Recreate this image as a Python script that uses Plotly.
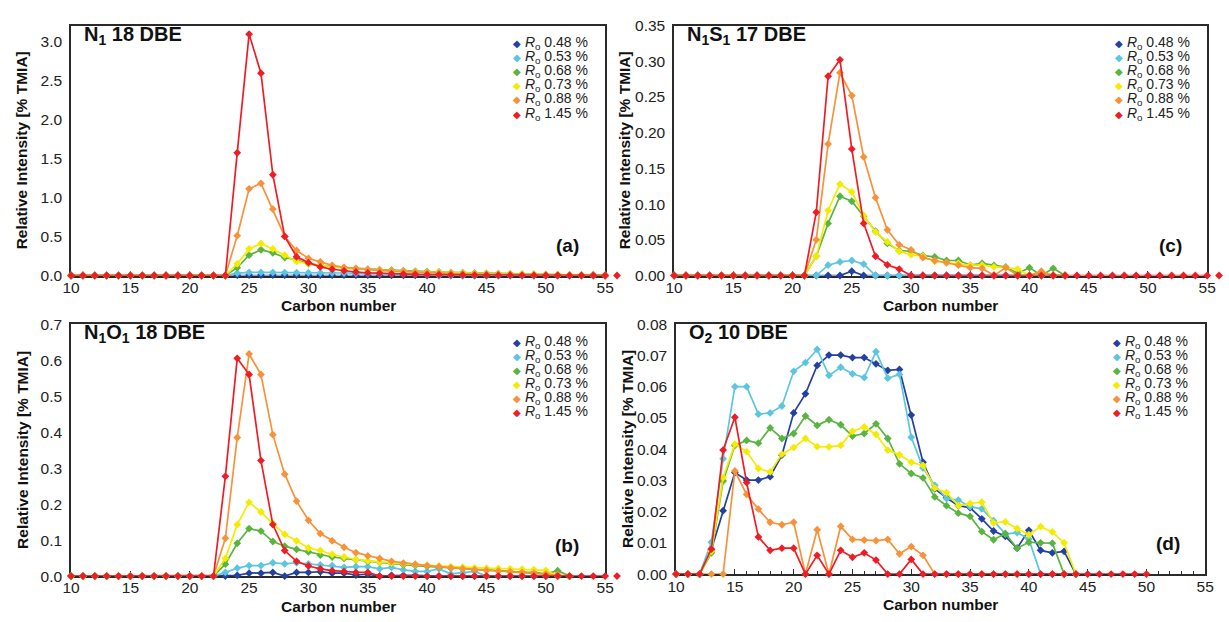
import plotly.graph_objects as go

# ---------------- data ----------------
SERIES_LABELS = ["0.48", "0.53", "0.68", "0.73", "0.88", "1.45"]
COLORS = ["#23429f", "#5cc6df", "#5ab440", "#f4ec00", "#f7923a", "#ee1d25"]

# Panel (a): N1 18 DBE
A_X_RED = list(range(10, 57))
A_X = list(range(10, 56))
A_048 = [0] * 14 + [0.004, 0.006, 0.006, 0.006, 0.006, 0.006, 0.005, 0.005, 0.005, 0.004, 0.004, 0.004,
                    0.003, 0.003, 0.002, 0.002] + [0] * 16
A_053 = [0] * 14 + [0.03, 0.04, 0.04, 0.04, 0.038, 0.037, 0.036, 0.035, 0.034, 0.032, 0.03, 0.028, 0.026,
                    0.024, 0.02, 0.015, 0.01] + [0] * 15
A_068 = [0] * 14 + [0.10, 0.26, 0.33, 0.29, 0.23, 0.20, 0.15, 0.13, 0.115, 0.10, 0.09, 0.08, 0.075, 0.07,
                    0.062, 0.056, 0.05, 0.045, 0.04, 0.036, 0.032, 0.028, 0.025, 0.022, 0.019, 0.016,
                    0.013, 0.011, 0.009, 0.007, 0.01, 0]
A_073 = [0] * 14 + [0.15, 0.34, 0.41, 0.34, 0.26, 0.18, 0.15, 0.13, 0.11, 0.095, 0.085, 0.075, 0.068,
                    0.06, 0.054, 0.048, 0.043, 0.038, 0.034, 0.03, 0.027, 0.024, 0.021, 0.018, 0.016,
                    0.014, 0.012, 0.01, 0.008, 0.006, 0.004, 0]
A_088 = [0] * 14 + [0.51, 1.11, 1.18, 0.85, 0.50, 0.32, 0.22, 0.175, 0.13, 0.105, 0.09, 0.075, 0.065,
                    0.055, 0.048, 0.042, 0.036, 0.03, 0.026, 0.022, 0.019, 0.016, 0.013, 0.011, 0.009,
                    0.007, 0.005, 0.004, 0.003, 0.002, 0.001, 0]
A_145 = [0] * 14 + [1.57, 3.09, 2.59, 1.29, 0.50, 0.24, 0.165, 0.11, 0.08, 0.06, 0.045, 0.035, 0.028,
                    0.022, 0.018, 0.015, 0.012, 0.01, 0.008, 0.007, 0.006, 0.005, 0.004, 0.004, 0.003,
                    0.003, 0.002, 0.002, 0.001, 0.001, 0.001, 0, 0]

# Panel (c): N1S1 17 DBE
C_X_RED = list(range(10, 57))
C_X = list(range(10, 44))
C_048 = [0] * 12 + [0, 0, 0, 0.006] + [0] * 18
C_053 = [0] * 12 + [0, 0.0145, 0.019, 0.021, 0.016] + [0] * 17
C_068 = [0] * 12 + [0.027, 0.073, 0.111, 0.104, 0.083, 0.062, 0.045, 0.035, 0.034, 0.028, 0.026, 0.021,
                    0.021, 0.0145, 0.017, 0.014, 0.012, 0.003, 0.011, 0, 0.01, 0]
C_073 = [0] * 12 + [0.027, 0.091, 0.128, 0.117, 0.084, 0.061, 0.047, 0.034, 0.029, 0.027, 0.02, 0.018,
                    0.017, 0.0145, 0.0145, 0.012, 0.011, 0.009, 0, 0, 0, 0]
C_088 = [0] * 12 + [0.05, 0.184, 0.284, 0.252, 0.166, 0.109, 0.064, 0.043, 0.036, 0.025, 0.021, 0.018,
                    0.0145, 0.011, 0.01, 0, 0.011, 0, 0, 0.006, 0, 0]
C_145 = [0] * 12 + [0.0886, 0.279, 0.302, 0.177, 0.073, 0.027, 0.015, 0.009] + [0] * 27

# Panel (b): N1O1 18 DBE
B_X_RED = list(range(10, 57))
B_X = list(range(10, 53))
B_048 = [0] * 13 + [0, 0.002, 0.008, 0.008, 0.01, 0, 0.01, 0.01, 0.012, 0.008, 0.008, 0.003, 0.005, 0,
                    0.002, 0.002, 0.002] + [0] * 13
B_053 = [0] * 13 + [0.01, 0.022, 0.029, 0.029, 0.037, 0.034, 0.037, 0.034, 0.031, 0.029, 0.024, 0.026,
                    0.026, 0.02, 0.024, 0.017, 0.013, 0.013, 0.02, 0.006, 0.009, 0.013] + [0] * 8
B_068 = [0] * 13 + [0.033, 0.091, 0.132, 0.125, 0.096, 0.083, 0.074, 0.067, 0.058, 0.053, 0.049, 0.045,
                    0.04, 0.038, 0.035, 0.031, 0.029, 0.027, 0.025, 0.022, 0.02, 0.017, 0.016, 0.015,
                    0.012, 0.011, 0.01, 0.006, 0.015, 0]
B_073 = [0] * 13 + [0.049, 0.143, 0.205, 0.178, 0.146, 0.116, 0.098, 0.078, 0.071, 0.06, 0.053, 0.046,
                    0.042, 0.039, 0.036, 0.034, 0.032, 0.03, 0.028, 0.026, 0.025, 0.023, 0.022, 0.021,
                    0.02, 0.019, 0.018, 0.016, 0, 0]
B_088 = [0] * 13 + [0.105, 0.385, 0.617, 0.56, 0.393, 0.283, 0.208, 0.155, 0.118, 0.098, 0.08, 0.065,
                    0.056, 0.049, 0.041, 0.036, 0.033, 0.029, 0.026, 0.023, 0.02, 0.018, 0.016, 0.014,
                    0.012, 0.01, 0.008, 0.006, 0.004, 0]
B_145 = [0] * 13 + [0.277, 0.605, 0.56, 0.321, 0.143, 0.071, 0.041, 0.028, 0.02, 0.015, 0.013, 0.01,
                    0.01] + [0] * 21

# Panel (d): O2 10 DBE
D_X_RED = list(range(10, 51))
D_X = list(range(10, 45))
D_048 = [0] * 3 + [0.0078, 0.0203, 0.0325, 0.0301, 0.0301, 0.0312, 0.0381, 0.0516, 0.0577, 0.0668,
                   0.0701, 0.0701, 0.0693, 0.0693, 0.0673, 0.0652, 0.0655, 0.0509, 0.0358, 0.0273,
                   0.0244, 0.0219, 0.0213, 0.0177, 0.0138, 0.0121, 0.0083, 0.014, 0.0076, 0.0068,
                   0.0073, 0]
D_053 = [0] * 3 + [0.0102, 0.0369, 0.060, 0.060, 0.0512, 0.0516, 0.0538, 0.0649, 0.0677, 0.0719,
                   0.0636, 0.0662, 0.0641, 0.0629, 0.0712, 0.0627, 0.0639, 0.0438, 0.034, 0.0284,
                   0.0242, 0.0237, 0.0216, 0.0209, 0.0171, 0.0128, 0.0133, 0.0112] + [0] * 4
D_068 = [0] * 3 + [0.0068, 0.0298, 0.0412, 0.0428, 0.0419, 0.0468, 0.0434, 0.045, 0.0506, 0.0476,
                   0.0494, 0.0478, 0.0442, 0.045, 0.0481, 0.0434, 0.0353, 0.0322, 0.0308, 0.0247,
                   0.0219, 0.0195, 0.0185, 0.0136, 0.011, 0.013, 0.0083, 0.0102, 0.01, 0.0099] + [0] * 2
D_073 = [0] * 3 + [0.0073, 0.0309, 0.0416, 0.0392, 0.0338, 0.0327, 0.0384, 0.0405, 0.0434, 0.0408,
                   0.0407, 0.0412, 0.0457, 0.0471, 0.0447, 0.0397, 0.0382, 0.0358, 0.0348, 0.0275,
                   0.0261, 0.0219, 0.0226, 0.023, 0.0164, 0.0167, 0.0146, 0.0126, 0.0152, 0.0135,
                   0.01, 0]
D_088 = [0] * 5 + [0.033, 0.0255, 0.0208, 0.0166, 0.0158, 0.0166, 0, 0.0142, 0, 0.0153, 0.0111, 0.0109,
                   0.0107, 0.0111, 0.0065, 0.0088, 0.006] + [0] * 13
D_145 = [0] * 3 + [0.008, 0.0397, 0.0502, 0.0293, 0.0119, 0.0076, 0.0083, 0.0083, 0, 0.006, 0, 0.0076,
                   0.0054, 0.0068, 0.0045, 0, 0, 0.0047] + [0] * 20

PANEL_TITLES = ["N<sub>1</sub> 18 DBE", "N<sub>1</sub>S<sub>1</sub> 17 DBE",
                "N<sub>1</sub>O<sub>1</sub> 18 DBE", "O<sub>2</sub> 10 DBE"]
PANEL_LETTERS = ["(a)", "(c)", "(b)", "(d)"]
Y_RANGES = [[0, 3.2], [0, 0.35], [0, 0.7], [0, 0.08]]
Y_DTICKS = [0.5, 0.05, 0.1, 0.01]
Y_FORMATS = [".1f", ".2f", ".1f", ".2f"]
X_RANGE = [10, 55]
X_TITLE = "Carbon number"
Y_TITLE = "Relative Intensity [% TMIA]"

panels = [
    (A_X, A_X_RED, [A_048, A_053, A_068, A_073, A_088, A_145]),
    (C_X, C_X_RED, [C_048, C_053, C_068, C_073, C_088, C_145]),
    (B_X, B_X_RED, [B_048, B_053, B_068, B_073, B_088, B_145]),
    (D_X, D_X_RED, [D_048, D_053, D_068, D_073, D_088, D_145]),
]

# ---------------- layout geometry (pixels) ----------------
W, H = 1229, 622
# left, right, top, bottom of each plot area
BOXES = [(63, 605, 17, 274), (675, 1216, 17, 274), (63, 605, 324, 583), (677, 1214, 324, 581)]


def px(x):
    return x / W


def py(y):
    return 1 - y / H


FONT = "Liberation Sans, Arial, sans-serif"
AXC = "#2a2a2a"

fig = go.Figure()
layout = dict(
    width=W, height=H, margin=dict(l=0, r=0, t=0, b=0),
    paper_bgcolor="white", plot_bgcolor="rgba(0,0,0,0)", showlegend=False,
    font=dict(family=FONT, color="#222", size=15),
)
annotations = []

for i, (xs, xs_red, series) in enumerate(panels):
    n = i + 1
    xa = "x" if n == 1 else f"x{n}"
    ya = "y" if n == 1 else f"y{n}"
    l, r, t, b = BOXES[i]
    # extra (hidden) x axis with the same scale, reaching one carbon further,
    # so that the red markers beyond the frame stay visible as in the original
    xmax = max(xs_red)
    n_ext = n + 4
    xa_ext = f"x{n_ext}"
    unit = (r - l) / (X_RANGE[1] - X_RANGE[0])
    r_ext = r + unit * max(0, xmax - X_RANGE[1])
    for j, vals in enumerate(series):
        is_red = j == 5
        xvals = xs_red if is_red else xs
        fig.add_trace(go.Scatter(
            x=xvals, y=vals, mode="lines" if is_red else "lines+markers", xaxis=xa, yaxis=ya,
            line=dict(color=COLORS[j], width=1.7),
            marker=dict(symbol="diamond", size=6, color=COLORS[j]),
            cliponaxis=False, name="R<sub>o</sub> " + SERIES_LABELS[j] + " %",
        ))
    # red markers on the extended axis
    fig.add_trace(go.Scatter(
        x=xs_red, y=series[5], mode="markers", xaxis=xa_ext, yaxis=ya,
        marker=dict(symbol="diamond", size=6, color=COLORS[5]),
        cliponaxis=False, name="R<sub>o</sub> " + SERIES_LABELS[5] + " %",
    ))
    layout[f"xaxis{n_ext}"] = dict(
        domain=[px(l), px(r_ext)], anchor=ya, range=[X_RANGE[0], max(X_RANGE[1], xmax)],
        visible=False, showgrid=False, zeroline=False,
    )
    layout["xaxis" if n == 1 else f"xaxis{n}"] = dict(
        domain=[px(l), px(r)], anchor=ya, range=X_RANGE, tick0=10, dtick=5,
        ticks="inside", ticklen=5, tickwidth=1, tickcolor=AXC,
        minor=dict(ticks="inside", ticklen=3, dtick=1, tick0=10, tickcolor=AXC),
        showline=True, mirror=True, linecolor=AXC, linewidth=1.6,
        showgrid=False, zeroline=False, layer="below traces",
        ticklabelstandoff=-3, tickfont=dict(size=15.5, color="#222"),
    )
    layout["yaxis" if n == 1 else f"yaxis{n}"] = dict(
        domain=[py(b), py(t)], anchor=xa, range=Y_RANGES[i], dtick=Y_DTICKS[i], tick0=0,
        tickformat=Y_FORMATS[i], ticks="", showline=True, mirror=True, linecolor=AXC,
        linewidth=1.6, showgrid=False, zeroline=False, layer="below traces",
        ticklabelstandoff=4, tickfont=dict(size=15.5, color="#222"),
    )
    # panel title
    annotations.append(dict(
        text="<b>" + PANEL_TITLES[i] + "</b>", x=px(l + 11), y=py(t + 10),
        xref="paper", yref="paper", xanchor="left", yanchor="middle", showarrow=False,
        font=dict(size=20, color="#111", family=FONT),
    ))
    # panel letter
    annotations.append(dict(
        text="<b>" + PANEL_LETTERS[i] + "</b>", x=px(r - 24), y=py(b - 31),
        xref="paper", yref="paper", xanchor="right", yanchor="middle", showarrow=False,
        font=dict(size=19, color="#111", family=FONT),
    ))
    # axis titles
    annotations.append(dict(
        text="<b>" + X_TITLE + "</b>", x=px((l + r) / 2), y=py(b + 31),
        xref="paper", yref="paper", xanchor="center", yanchor="middle", showarrow=False,
        font=dict(size=15.5, color="#111", family=FONT),
    ))
    annotations.append(dict(
        text="<b>" + Y_TITLE + "</b>", x=px(l - 50), y=py((t + b) / 2), textangle=-90,
        xref="paper", yref="paper", xanchor="center", yanchor="middle", showarrow=False,
        font=dict(size=15.5, color="#111", family=FONT),
    ))
    # legend entries
    lx = r - 96
    for j, lab in enumerate(SERIES_LABELS):
        annotations.append(dict(
            text=f"<span style='color:{COLORS[j]};font-size:10px'>◆</span> "
                 f"<i>R</i><sub>o</sub> {lab} %",
            x=px(lx), y=py(t + 18 + 14.5 * j), xref="paper", yref="paper",
            xanchor="left", yanchor="middle", showarrow=False,
            font=dict(size=14, color="#222", family=FONT),
        ))

layout["annotations"] = annotations
fig.update_layout(**layout)
fig.write_html("out.html")
